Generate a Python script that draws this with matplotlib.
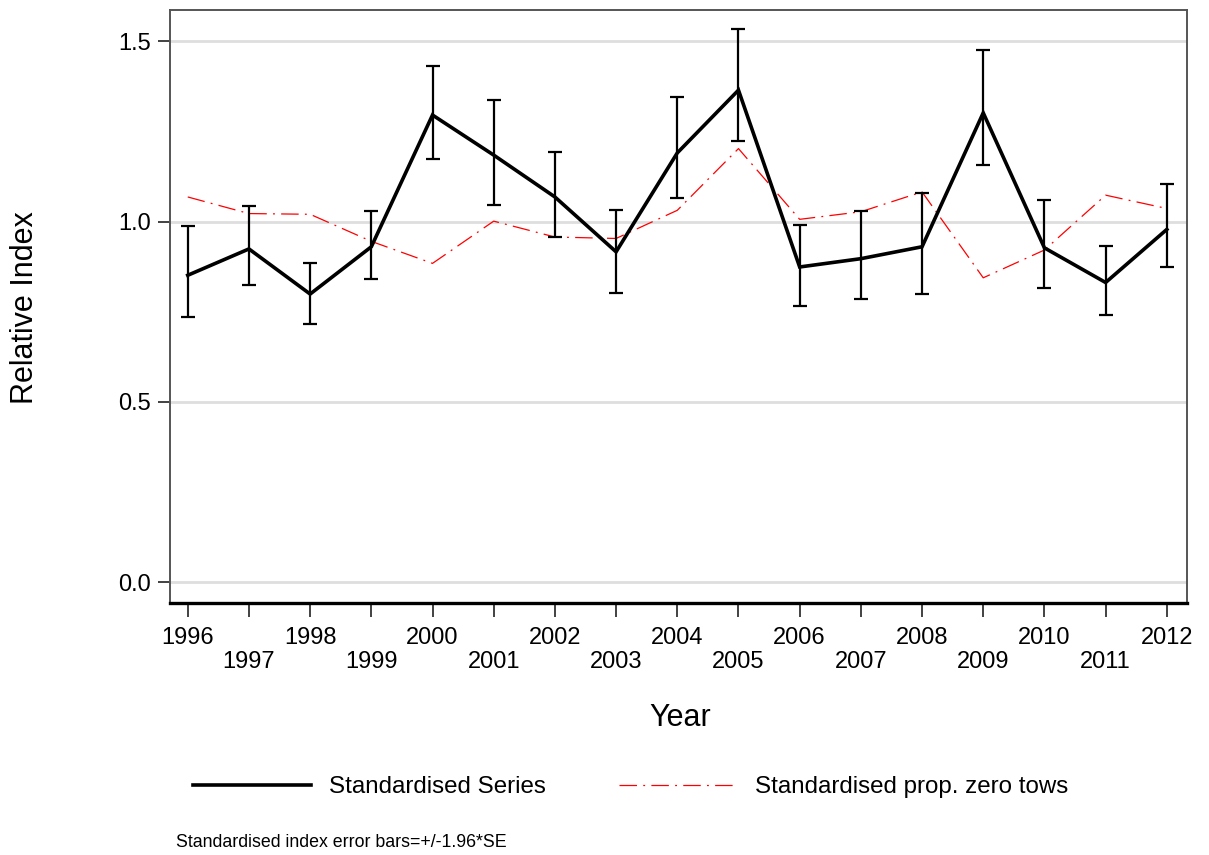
import matplotlib
matplotlib.use("Agg")
import matplotlib.pyplot as plt
from matplotlib.lines import Line2D

plt.rcParams['font.family'] = ['Liberation Sans', 'DejaVu Sans']

years = list(range(1996, 2013))
index = [0.851, 0.924, 0.799, 0.930, 1.295, 1.184, 1.068, 0.916, 1.190, 1.364,
         0.874, 0.897, 0.930, 1.301, 0.927, 0.831, 0.978]
upper = [0.987, 1.043, 0.884, 1.029, 1.431, 1.336, 1.193, 1.031, 1.344, 1.532,
         0.990, 1.029, 1.078, 1.475, 1.059, 0.932, 1.104]
lower = [0.736, 0.823, 0.717, 0.841, 1.173, 1.047, 0.957, 0.802, 1.064, 1.223,
         0.766, 0.786, 0.799, 1.156, 0.817, 0.742, 0.874]
prop_zero = [1.068, 1.022, 1.020, 0.945, 0.884, 1.001, 0.957, 0.953, 1.031, 1.202,
             1.006, 1.027, 1.082, 0.844, 0.921, 1.073, 1.036]
yticks = [0.0, 0.5, 1.0, 1.5]
ytick_labels = ["0.0", "0.5", "1.0", "1.5"]

W, H = 1209, 855
fig = plt.figure(figsize=(W / 100, H / 100), dpi=100)
ax = fig.add_axes([170 / W, 1 - 603 / H, (1187 - 170) / W, (603 - 10) / H])

for y in yticks:
    ax.axhline(y, color='#dedede', lw=2, zorder=0)

dash = (0, (14, 5, 1.5, 5))
yerr = [[i - l for i, l in zip(index, lower)], [u - i for u, i in zip(upper, index)]]
ax.errorbar(years, index, yerr=yerr, fmt='none', ecolor='black', elinewidth=1.6,
            capsize=5, capthick=1.6, zorder=3)
ax.plot(years, index, color='black', lw=2.6, zorder=4, solid_joinstyle='miter')
ax.plot(years, prop_zero, color='red', lw=0.9, linestyle=dash, zorder=2)

ax.set_xlim(1995.71, 2012.33)
ax.set_ylim(-0.057, 1.586)
ax.set_yticks(yticks)
ax.set_yticklabels(ytick_labels)
ax.set_xticks(years)
ax.set_xticklabels([str(y) if y % 2 == 0 else "\n" + str(y) for y in years],
                   linespacing=1.12)
ax.tick_params(axis='x', length=10, width=1.3, pad=7, labelsize=17, color='#333333')
ax.tick_params(axis='y', length=8.5, width=1.3, pad=5, labelsize=17, color='#333333')

for s in ['top', 'right', 'left']:
    ax.spines[s].set_color('#555555')
    ax.spines[s].set_linewidth(1.4)
ax.spines['bottom'].set_color('black')
ax.spines['bottom'].set_linewidth(2.4)

fig.text(25 / W, 1 - 308 / H, "Relative Index", rotation=90, fontsize=22,
         ha='center', va='center')
fig.text(680 / W, 1 - 718 / H, "Year", fontsize=22, ha='center', va='center')

handles = [Line2D([], [], color='black', lw=2.6),
           Line2D([], [], color='red', lw=0.9, linestyle=dash)]
fig.legend(handles, ["Standardised Series", "Standardised prop. zero tows"],
           loc='center left', bbox_to_anchor=(193 / W, 1 - 787 / H), ncol=2,
           frameon=False, fontsize=17.4, handlelength=4.9, handletextpad=0.74,
           columnspacing=3.0, borderpad=0, borderaxespad=0)

fig.text(176 / W, 1 - 842 / H, "Standardised index error bars=+/-1.96*SE",
         fontsize=12.8, ha='left', va='center')

fig.savefig("out.png", dpi=100)
